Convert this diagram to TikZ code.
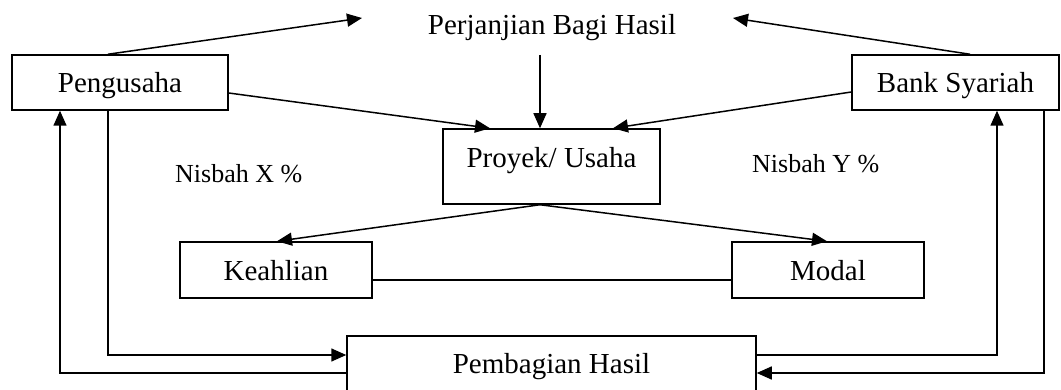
\documentclass[tikz,border=0pt]{standalone}
\usepackage{fontspec}
\setmainfont{Liberation Serif}
\usetikzlibrary{arrows.meta}
\begin{document}
\begin{tikzpicture}[x=1pt,y=-1pt,
  box/.style={draw, line width=1.5pt, inner sep=0pt, text height=21pt, text depth=0pt, font=\fontsize{29}{34}\selectfont},
  arr/.style={line width=1.5pt, -{Triangle[length=15pt,width=13pt]}},
  ln/.style={line width=1.5pt},
  lbl/.style={font=\fontsize{29}{34}\selectfont, inner sep=0pt},
  nis/.style={font=\fontsize{26}{30}\selectfont, inner sep=0pt}]
\useasboundingbox (0,0) rectangle (1061,390);
\node[box, minimum width=216pt, minimum height=55pt] (peng) at (120,82.5) {Pengusaha};
\node[box, minimum width=207pt, minimum height=55pt] (bank) at (955.5,82.5) {Bank Syariah};
\node[box, minimum width=217pt, minimum height=75pt, text height=20pt, text depth=17pt] (proy) at (551.5,166.5) {Proyek/ Usaha};
\node[box, minimum width=192pt, minimum height=56pt] (keah) at (276,270) {Keahlian};
\node[box, minimum width=192pt, minimum height=56pt] (modal) at (828,270) {Modal};
\node[box, minimum width=409pt, minimum height=64pt, text height=21pt, text depth=11pt] (pemb) at (551.5,368) {Pembagian Hasil};
\node[lbl, anchor=base] (perj) at (552,35) {Perjanjian Bagi Hasil};
\node[nis, anchor=base west] (nx) at (175,183) {Nisbah X \%};
\node[nis, anchor=base west] (ny) at (752,173) {Nisbah Y \%};
\coordinate (pl) at (362,18);
\coordinate (pr) at (733,18);
\coordinate (pd) at (540,55);
\draw[arr] ([xshift=-12pt]peng.north) -- (pl);
\draw[arr] ([xshift=14.5pt]bank.north) -- (pr);
\draw[arr] (pd) -- ([xshift=-11.5pt]proy.north);
\draw[arr] ([yshift=-10.5pt]peng.east) -- ([xshift=-61.5pt]proy.north);
\draw[arr] ([yshift=-9.5pt]bank.west) -- ([xshift=61.5pt]proy.north);
\draw[arr] ([xshift=-11.5pt]proy.south) -- ([xshift=1pt]keah.north);
\draw[arr] ([xshift=-11.5pt]proy.south) -- ([xshift=-1pt]modal.north);
\draw[ln] ([yshift=-10pt]keah.east) -- ([yshift=-10pt]modal.west);
\draw[arr] ([xshift=-12pt]peng.south) |- ([yshift=13pt]pemb.west);
\draw[arr] ([yshift=-5pt]pemb.west) -| ([xshift=-60pt]peng.south);
\draw[arr] ([yshift=13pt]pemb.east) -| ([xshift=41.5pt]bank.south);
\draw[arr] ([xshift=88.5pt]bank.south) |- ([yshift=-5pt]pemb.east);
\end{tikzpicture}
\end{document}
